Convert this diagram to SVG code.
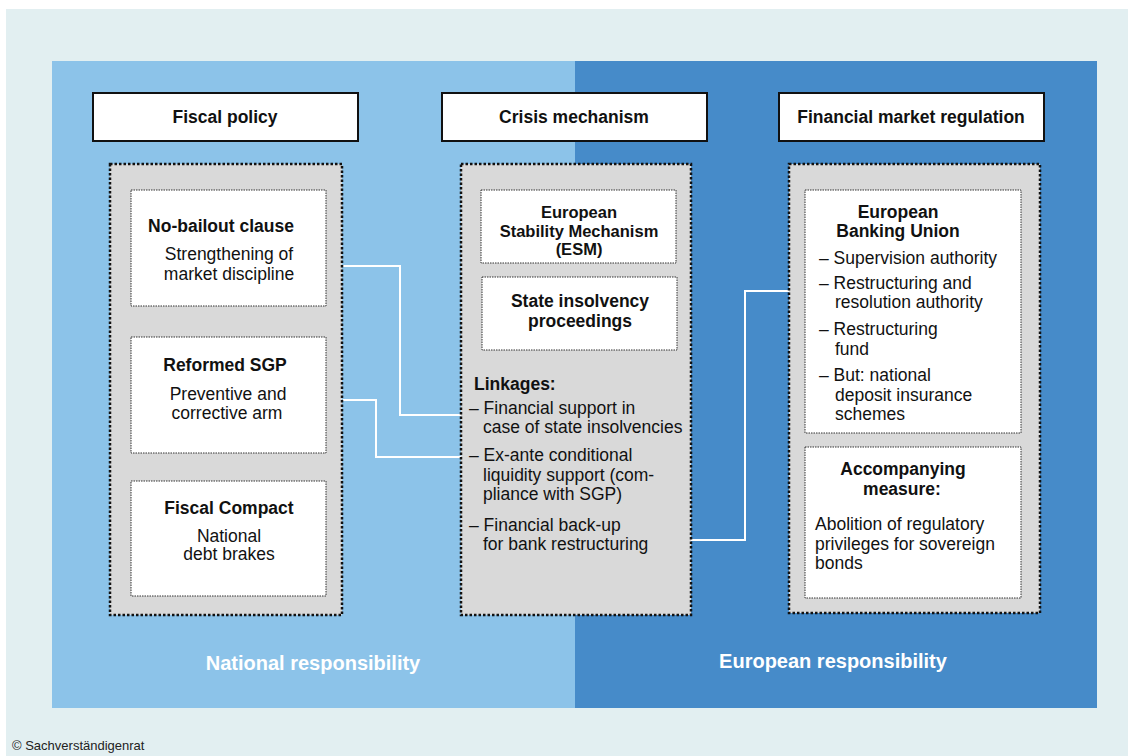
<svg xmlns="http://www.w3.org/2000/svg" width="1128" height="756" viewBox="0 0 1128 756">
<style>
text{font-family:"Liberation Sans",Arial,sans-serif;fill:#111}
.h{font-size:17.5px;font-weight:bold;text-anchor:middle}
.hs{font-size:16.5px}
.b{font-size:17.5px;font-weight:bold}
.c{text-anchor:middle}
.t{font-size:17.5px}
.hdr{fill:#fff;stroke:#111;stroke-width:2}
.outer{fill:#d9d9d9;stroke:#111;stroke-width:2.5;stroke-dasharray:2.5 2}
.inner{fill:#fff;stroke:#333;stroke-width:1;stroke-dasharray:1.5 1}
.foot{font-size:20px;font-weight:bold;fill:#fff;text-anchor:middle}
.conn{fill:none;stroke:#fff;stroke-width:2}
</style>
<rect x="0" y="0" width="1128" height="756" fill="#fff"/>
<rect x="6" y="9" width="1122" height="747" fill="#e2eff1"/>
<rect x="52" y="61" width="523" height="647" fill="#8cc3e9"/>
<rect x="575" y="61" width="522" height="647" fill="#468bc9"/>
<text class="foot" x="313" y="670">National responsibility</text>
<text class="foot" x="833" y="668">European responsibility</text>
<text x="12" y="750" style="font-size:13px;fill:#222">© Sachverständigenrat</text>

<g id="connectors">
<polyline class="conn" points="343,266 400,266 400,415 461,415"/>
<polyline class="conn" points="343,400 376,400 376,457 461,457"/>
<polyline class="conn" points="691,540 745,540 745,291 789,291"/>
</g>

<g id="hdr-fiscal">
<rect class="hdr" x="93" y="93" width="265" height="48"/>
<text class="h" x="225" y="123">Fiscal policy</text>
</g>
<g id="hdr-crisis">
<rect class="hdr" x="442" y="93" width="265" height="48"/>
<text class="h" x="574" y="123">Crisis mechanism</text>
</g>
<g id="hdr-financial">
<rect class="hdr" x="779" y="93" width="265" height="48"/>
<text class="h" x="911" y="123">Financial market regulation</text>
</g>

<g id="fiscal-container">
<rect class="outer" x="110" y="164" width="232" height="451"/>
</g>
<g id="no-bailout">
<rect class="inner" x="131" y="190" width="195" height="116"/>
<text class="h" x="221" y="232">No-bailout clause</text>
<text class="t c" x="229" y="260">Strengthening of</text>
<text class="t c" x="229" y="280">market discipline</text>
</g>
<g id="reformed-sgp">
<rect class="inner" x="131" y="337" width="195" height="116"/>
<text class="h" x="225" y="371">Reformed SGP</text>
<text class="t c" x="228" y="400">Preventive and</text>
<text class="t c" x="227" y="419">corrective arm</text>
</g>
<g id="fiscal-compact">
<rect class="inner" x="131" y="481" width="195" height="115"/>
<text class="h" x="229" y="514">Fiscal Compact</text>
<text class="t c" x="229" y="542">National</text>
<text class="t c" x="229" y="560">debt brakes</text>
</g>

<g id="crisis-container">
<rect class="outer" x="461" y="164" width="230" height="451"/>
<text class="b" x="474" y="390">Linkages:</text>
<text class="t" x="469" y="414">– Financial support in</text>
<text class="t" x="483" y="433">case of state insolvencies</text>
<text class="t" x="469" y="461">– Ex-ante conditional</text>
<text class="t" x="483" y="481">liquidity support (com-</text>
<text class="t" x="483" y="500">pliance with SGP)</text>
<text class="t" x="469" y="531">– Financial back-up</text>
<text class="t" x="483" y="550">for bank restructuring</text>
</g>
<g id="esm">
<rect class="inner" x="481" y="190" width="195" height="73"/>
<text class="h hs" x="579" y="218">European</text>
<text class="h hs" x="579" y="237">Stability Mechanism</text>
<text class="h hs" x="579" y="255">(ESM)</text>
</g>
<g id="state-insolvency">
<rect class="inner" x="482" y="277" width="195" height="73"/>
<text class="h" x="580" y="307">State insolvency</text>
<text class="h" x="580" y="327">proceedings</text>
</g>

<g id="financial-container">
<rect class="outer" x="789" y="164" width="251" height="449"/>
</g>
<g id="banking-union">
<rect class="inner" x="805" y="190" width="216" height="243"/>
<text class="h" x="898" y="218">European</text>
<text class="h" x="898" y="237">Banking Union</text>
<text class="t" x="819" y="264">– Supervision authority</text>
<text class="t" x="819" y="289">– Restructuring and</text>
<text class="t" x="835" y="308">resolution authority</text>
<text class="t" x="819" y="335">– Restructuring</text>
<text class="t" x="835" y="355">fund</text>
<text class="t" x="819" y="381">– But: national</text>
<text class="t" x="835" y="401">deposit insurance</text>
<text class="t" x="835" y="420">schemes</text>
</g>
<g id="accompanying">
<rect class="inner" x="805" y="447" width="216" height="151"/>
<text class="h" x="903" y="475">Accompanying</text>
<text class="h" x="902" y="495">measure:</text>
<text class="t" x="815" y="530">Abolition of regulatory</text>
<text class="t" x="815" y="550">privileges for sovereign</text>
<text class="t" x="815" y="569">bonds</text>
</g>
</svg>
